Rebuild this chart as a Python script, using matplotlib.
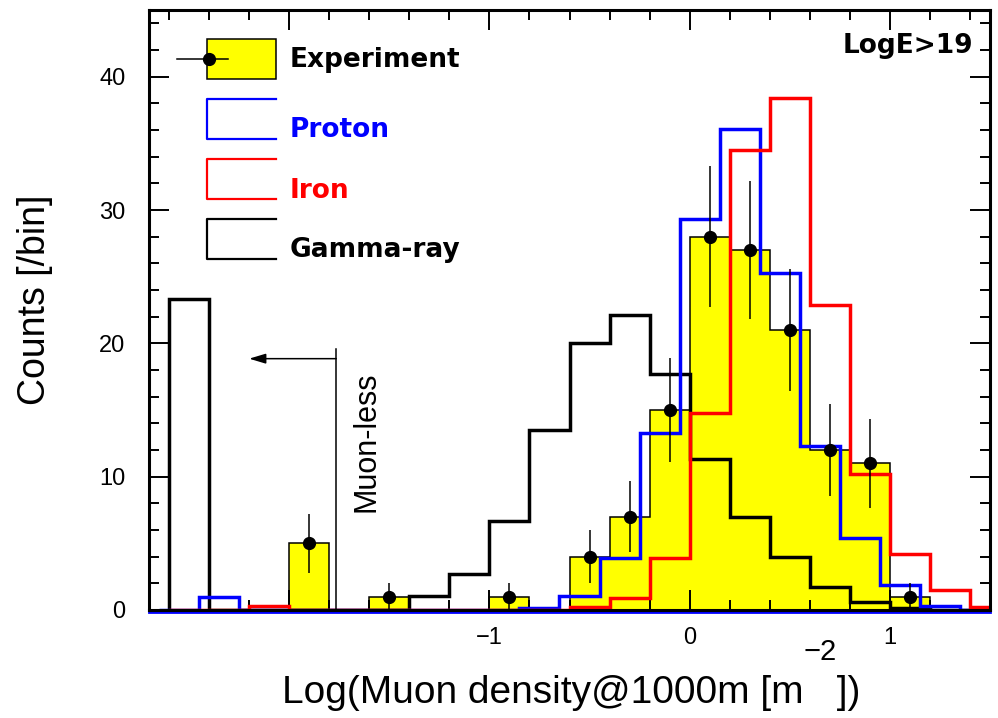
import numpy as np
import matplotlib
matplotlib.use("Agg")
import matplotlib.pyplot as plt
from matplotlib.lines import Line2D
from matplotlib.patches import Rectangle
from matplotlib.transforms import offset_copy

# ---- data -------------------------------------------------------------
# Bin edges in log10(muon density @ 1000 m); 0.2 wide.  The bins left of
# the cut hold the muon-less events of each sample.
edges = [-2.6, -2.4, -2.2, -2.0, -1.8, -1.6, -1.4, -1.2, -1.0, -0.8, -0.6,
         -0.4, -0.2, 0.0, 0.2, 0.4, 0.6, 0.8, 1.0, 1.2, 1.4, 1.6]
# the proton histogram was booked with edges shifted by -0.05
proton_edges = [-2.65, -2.45, -2.25, -2.05, -1.85, -1.65, -1.45, -1.25, -1.05,
                -0.85, -0.65, -0.45, -0.25, -0.05, 0.15, 0.35, 0.55, 0.75,
                0.95, 1.15, 1.35, 1.55]

experiment = [0, 0, 0, 5, 0, 1, 0, 0, 1, 0, 4, 7, 15, 28, 27, 21, 12, 11, 1, 0, 0]
proton = [0, 1.0, 0, 0, 0, 0, 0, 0, 0, 0.15, 1.05, 3.9, 13.25, 29.3, 36.1,
          25.3, 12.3, 5.4, 1.9, 0.33, 0]
iron = [0, 0, 0.3, 0, 0, 0, 0, 0, 0, 0, 0.2, 0.9, 3.9, 14.8, 34.5, 38.4,
        22.9, 10.2, 4.2, 1.5, 0.2]
gamma = [23.3, 0, 0, 0, 0, 0, 1.05, 2.7, 6.7, 13.5, 20.0, 22.1, 17.7, 11.35,
         7.0, 4.0, 1.7, 0.6, 0.13, 0, 0]

x_major = [-2, -1, 0, 1]
x_major_labels = ["", "\u22121", "0", "1"]
y_major = [0, 10, 20, 30, 40]
y_major_labels = ["0", "10", "20", "30", "40"]

legend_labels = ["Experiment", "Proton", "Iron", "Gamma-ray"]
energy_label = "LogE>19"
muonless_label = "Muon-less"
muonless_cut = -1.765
muonless_arrow_to = -2.2
muonless_line_top = 19.6
muonless_arrow_y = 18.85

# ---- figure -----------------------------------------------------------
W, H = 998, 718
plt.rcParams["font.family"] = ["Liberation Sans", "DejaVu Sans"]
fig = plt.figure(figsize=(W / 100, H / 100), dpi=100)
ax = fig.add_axes([149 / W, 1 - 610 / H, (990 - 149) / W, 600 / H])


def fpx(x, y):
    """pixel position (from top-left) -> figure fraction"""
    return x / W, 1 - y / H


YELLOW = "#ffff00"
BLUE = "#0000ff"
RED = "#ff0000"

ax.stairs(experiment, edges, fill=True, color=YELLOW, zorder=1)
ax.stairs(experiment, edges, color="black", lw=1.1, zorder=2)

centers = [(a + b) / 2 for a, b in zip(edges[:-1], edges[1:])]
cx = [c for c, n in zip(centers, experiment) if n > 0]
cy = [n for n in experiment if n > 0]
ax.errorbar(cx, cy, yerr=np.sqrt(cy), fmt="o", color="black", ms=8.5,
            elinewidth=1.1, capsize=0, zorder=6)

ax.stairs(gamma, edges, color="black", lw=2.5, zorder=3)
ax.stairs(proton, proton_edges, color=BLUE, lw=2.5, zorder=4)
ax.stairs(iron, edges, color=RED, lw=2.5, zorder=5)

# zero level of the proton histogram, just under the bottom frame
base_tr = offset_copy(ax.transAxes, fig=fig, x=0, y=-2.0, units="dots")
ax.plot([0, 1], [0, 0], transform=base_tr, color=BLUE, lw=2.0,
        clip_on=False, zorder=0.5)

# muon-less cut and arrow
ax.plot([muonless_cut, muonless_cut], [0, muonless_line_top], color="black",
        lw=1.1, zorder=6)
ax.annotate("", xy=(muonless_arrow_to, muonless_arrow_y),
            xytext=(muonless_cut, muonless_arrow_y),
            arrowprops=dict(arrowstyle="-|>,head_length=0.5,head_width=0.15",
                            lw=1.1, color="black", mutation_scale=20,
                            shrinkA=0, shrinkB=0), zorder=6)
ax.text(-1.615, 12.6, muonless_label, rotation=90, ha="center", va="center",
        fontsize=22)

ax.set_xlim(-2.7, 1.5)
ax.set_ylim(0, 45)

for s in ax.spines.values():
    s.set_linewidth(2.2)
    s.set_zorder(10)

ax.set_xticks(x_major)
ax.set_xticklabels(x_major_labels)
ax.set_xticks(np.arange(-2.6, 1.5, 0.2), minor=True)
ax.set_yticks(y_major)
ax.set_yticklabels(y_major_labels)
ax.set_yticks(np.arange(0, 45, 2), minor=True)
ax.tick_params(which="both", direction="in", top=True, right=True,
               width=1.4, labelsize=17)
ax.tick_params(which="major", length=14.5)
ax.tick_params(which="minor", length=7)
ax.tick_params(axis="x", which="major", pad=12)
ax.tick_params(axis="y", which="major", pad=17)

# axis titles
fig.text(*fpx(35, 300), "Counts [/bin]", rotation=90, ha="center",
         va="center", fontsize=27)
t1 = fig.text(*fpx(282, 703), "Log(Muon density@1000m [m", ha="left",
              va="baseline", fontsize=28)
t2 = ax.annotate("\u22122", xy=(1, 1), xycoords=t1, xytext=(0, 11),
                 textcoords="offset points", ha="left", va="baseline",
                 fontsize=21, annotation_clip=False)
t3 = ax.annotate(" ])", xy=(1, 0), xycoords=t1, xytext=(16, 0),
                 textcoords="offset points", ha="left", va="bottom",
                 fontsize=28, annotation_clip=False)

# energy cut label
fig.text(*fpx(973, 53), energy_label, ha="right", va="baseline",
         fontsize=19, fontweight="bold", family="DejaVu Sans")

# ---- legend -----------------------------------------------------------
tf = fig.transFigure
bx0, bx1 = 207, 276
# experiment: yellow box with data point
x0, y0 = fpx(bx0, 79)
x1, y1 = fpx(bx1, 39)
fig.add_artist(Rectangle((x0, y0), x1 - x0, y1 - y0, transform=tf,
                         facecolor=YELLOW, edgecolor="black", lw=1.1))
fig.add_artist(Line2D([fpx(177, 0)[0], fpx(228, 0)[0]], [fpx(0, 59)[1]] * 2,
                      transform=tf, color="black", lw=1.1))
fig.add_artist(Line2D([fpx(209, 0)[0]], [fpx(0, 59)[1]], transform=tf,
                      marker="o", ms=8.5, color="black"))

for (top, bot), col in zip([(99, 139), (159, 199), (219, 259)],
                           [BLUE, RED, "black"]):
    xs = [fpx(bx1, 0)[0], fpx(bx0, 0)[0], fpx(bx0, 0)[0], fpx(bx1, 0)[0]]
    ys = [fpx(0, top)[1], fpx(0, top)[1], fpx(0, bot)[1], fpx(0, bot)[1]]
    fig.add_artist(Line2D(xs, ys, transform=tf, color=col, lw=1.6))

for lab, base, col in zip(legend_labels, [66.7, 136.7, 198.3, 256.7],
                          ["black", BLUE, RED, "black"]):
    fig.text(*fpx(290, base), lab, ha="left", va="baseline", fontsize=19,
             fontweight="bold", family="DejaVu Sans", color=col)

fig.savefig("out.png", dpi=100)
